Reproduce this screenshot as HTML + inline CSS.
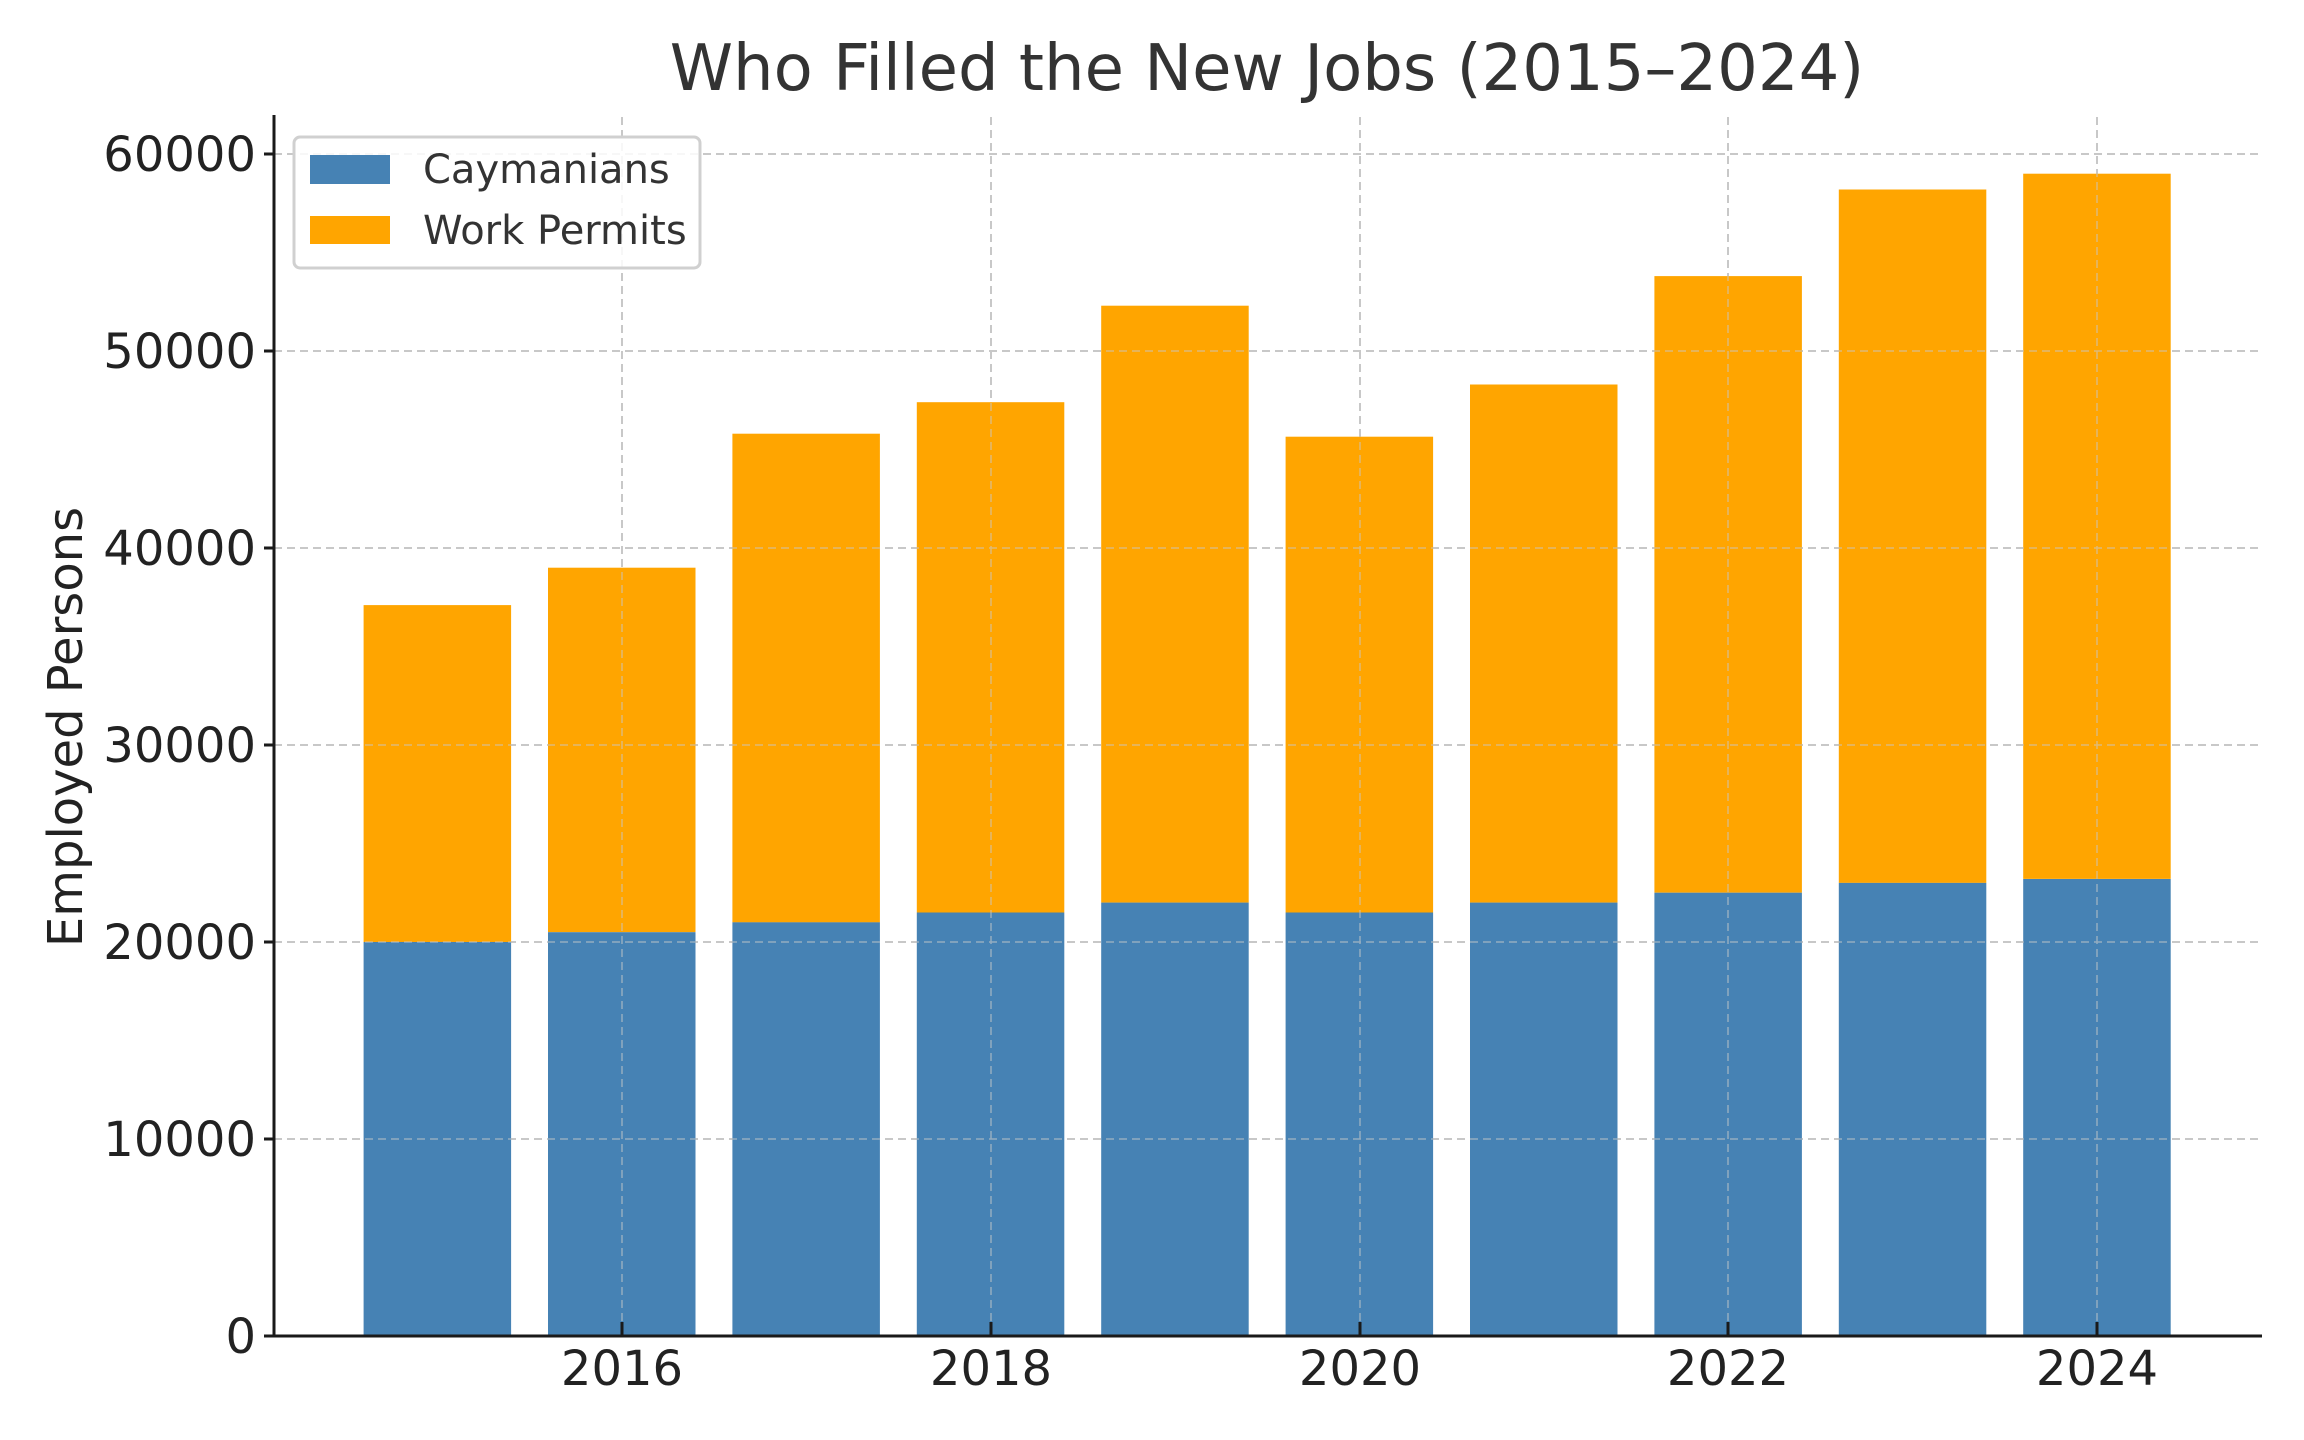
<!DOCTYPE html>
<html><head><meta charset="utf-8"><style>body{margin:0;background:#fff}svg{display:block}text{font-family:"DejaVu Sans","Liberation Sans",sans-serif}</style></head>
<body>
<svg width="2304" height="1440" xmlns="http://www.w3.org/2000/svg">
<rect width="2304" height="1440" fill="#fff"/>
<g stroke="#c8c8c8" stroke-width="2" stroke-dasharray="8,5">
<line x1="274" x2="2262" y1="1139" y2="1139"/><line x1="274" x2="2262" y1="942" y2="942"/><line x1="274" x2="2262" y1="745" y2="745"/><line x1="274" x2="2262" y1="548" y2="548"/><line x1="274" x2="2262" y1="351" y2="351"/><line x1="274" x2="2262" y1="154" y2="154"/>
<line x1="622" x2="622" y1="117" y2="1336"/><line x1="991" x2="991" y1="117" y2="1336"/><line x1="1360" x2="1360" y1="117" y2="1336"/><line x1="1728" x2="1728" y1="117" y2="1336"/><line x1="2097" x2="2097" y1="117" y2="1336"/>
</g>
<g>
<rect x="363.6" y="605.1" width="147.5" height="336.9" fill="#ffa500"/><rect x="363.6" y="942" width="147.5" height="394" fill="#4682b4"/>
<rect x="548" y="567.7" width="147.5" height="364.5" fill="#ffa500"/><rect x="548" y="932.2" width="147.5" height="403.8" fill="#4682b4"/>
<rect x="732.4" y="433.7" width="147.5" height="488.7" fill="#ffa500"/><rect x="732.4" y="922.3" width="147.5" height="413.7" fill="#4682b4"/>
<rect x="916.8" y="402.2" width="147.5" height="510.3" fill="#ffa500"/><rect x="916.8" y="912.5" width="147.5" height="423.5" fill="#4682b4"/>
<rect x="1101.2" y="305.7" width="147.5" height="596.9" fill="#ffa500"/><rect x="1101.2" y="902.6" width="147.5" height="433.4" fill="#4682b4"/>
<rect x="1285.6" y="436.7" width="147.5" height="475.8" fill="#ffa500"/><rect x="1285.6" y="912.5" width="147.5" height="423.5" fill="#4682b4"/>
<rect x="1470" y="384.5" width="147.5" height="518.1" fill="#ffa500"/><rect x="1470" y="902.6" width="147.5" height="433.4" fill="#4682b4"/>
<rect x="1654.4" y="276.1" width="147.5" height="616.6" fill="#ffa500"/><rect x="1654.4" y="892.7" width="147.5" height="443.3" fill="#4682b4"/>
<rect x="1838.8" y="189.5" width="147.5" height="693.4" fill="#ffa500"/><rect x="1838.8" y="882.9" width="147.5" height="453.1" fill="#4682b4"/>
<rect x="2023.2" y="173.7" width="147.5" height="705.2" fill="#ffa500"/><rect x="2023.2" y="879" width="147.5" height="457" fill="#4682b4"/>
</g>
<g stroke="#c8c8c8" stroke-width="1.5" stroke-dasharray="8,5" opacity="0.6">
<line x1="622" x2="622" y1="117" y2="1336"/><line x1="991" x2="991" y1="117" y2="1336"/><line x1="1360" x2="1360" y1="117" y2="1336"/><line x1="1728" x2="1728" y1="117" y2="1336"/><line x1="2097" x2="2097" y1="117" y2="1336"/>
<line x1="274" x2="2262" y1="1139" y2="1139"/><line x1="274" x2="2262" y1="942" y2="942"/><line x1="274" x2="2262" y1="745" y2="745"/><line x1="274" x2="2262" y1="548" y2="548"/><line x1="274" x2="2262" y1="351" y2="351"/><line x1="274" x2="2262" y1="154" y2="154"/>
</g>
<line x1="274" y1="115" x2="274" y2="1337" stroke="#1a1a1a" stroke-width="3"/>
<line x1="273" y1="1336" x2="2262" y2="1336" stroke="#1a1a1a" stroke-width="3"/>
<g stroke="#1a1a1a" stroke-width="3">
<line x1="264" x2="274" y1="1336" y2="1336"/><line x1="264" x2="274" y1="1139" y2="1139"/><line x1="264" x2="274" y1="942" y2="942"/><line x1="264" x2="274" y1="745" y2="745"/><line x1="264" x2="274" y1="548" y2="548"/><line x1="264" x2="274" y1="351" y2="351"/><line x1="264" x2="274" y1="154" y2="154"/>
<line x1="622" x2="622" y1="1336" y2="1322"/><line x1="991" x2="991" y1="1336" y2="1322"/><line x1="1360" x2="1360" y1="1336" y2="1322"/><line x1="1728" x2="1728" y1="1336" y2="1322"/><line x1="2097" x2="2097" y1="1336" y2="1322"/>
</g>
<g font-size="48" fill="#222" text-anchor="end">
<text x="256" y="1353">0</text><text x="256" y="1156">10000</text><text x="256" y="959">20000</text><text x="256" y="762">30000</text><text x="256" y="565">40000</text><text x="256" y="368">50000</text><text x="256" y="171">60000</text>
</g>
<g font-size="48" fill="#222" text-anchor="middle">
<text x="622" y="1385">2016</text><text x="991" y="1385">2018</text><text x="1360" y="1385">2020</text><text x="1728" y="1385">2022</text><text x="2097" y="1385">2024</text>
</g>
<text x="1267" y="90" font-size="64" fill="#333" text-anchor="middle">Who Filled the New Jobs (2015–2024)</text>
<text transform="translate(82,727) rotate(-90)" font-size="48" fill="#222" text-anchor="middle">Employed Persons</text>
<rect x="294" y="137" width="406" height="131" rx="6" fill="#fff" fill-opacity="0.85" stroke="#d0d0d0" stroke-width="3"/>
<rect x="310" y="155" width="80" height="29" fill="#4682b4"/>
<rect x="310" y="216" width="80" height="28" fill="#ffa500"/>
<text x="423" y="183" font-size="40" fill="#333">Caymanians</text>
<text x="423" y="244" font-size="40" fill="#333">Work Permits</text>
</svg>
</body></html>
